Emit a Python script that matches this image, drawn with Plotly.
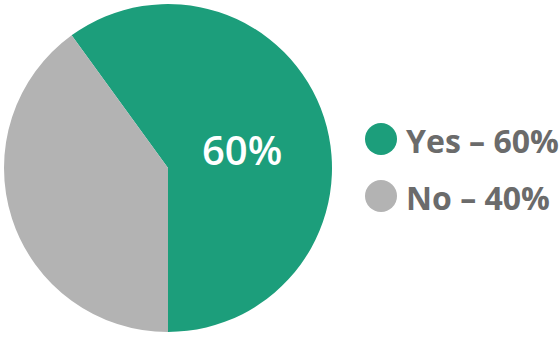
import plotly.graph_objects as go

labels = ["Yes", "No"]
values = [60, 40]
colors = ["#1c9e7b", "#b3b3b3"]
slice_text = ["60%", ""]

W, H = 560, 344

fig = go.Figure()
fig.add_trace(go.Pie(
    labels=labels, values=values, sort=False, direction="clockwise", rotation=-36,
    marker=dict(colors=colors, line=dict(width=0)),
    textinfo="none",
    domain=dict(x=[4 / W, 332 / W], y=[12 / H, 340 / H]),
    showlegend=False, hoverinfo="label+percent",
))

# slice label
fig.add_annotation(xref="paper", yref="paper", x=242 / W, y=1 - 149 / H,
                   xanchor="center", yanchor="middle", showarrow=False,
                   text=slice_text[0],
                   font=dict(family="Open Sans", size=40, color="white", weight=550))

# custom legend
rows_y = [139, 196]
for i, (lab, val, col) in enumerate(zip(labels, values, colors)):
    y = rows_y[i]
    fig.add_shape(type="circle", xref="paper", yref="paper",
                  x0=365 / W, x1=397 / W, y0=1 - (y + 16) / H, y1=1 - (y - 16) / H,
                  fillcolor=col, line=dict(width=0))
    fig.add_annotation(xref="paper", yref="paper", x=404 / W, y=1 - (y + 1) / H,
                       xanchor="left", yanchor="middle", showarrow=False,
                       text=f"{lab} – {val}%",
                       font=dict(family="Open Sans", size=32, color="#6b6b6b", weight=700))

fig.update_layout(width=W, height=H, margin=dict(l=0, r=0, t=0, b=0),
                  paper_bgcolor="white", plot_bgcolor="white")
fig.write_html("out.html")
